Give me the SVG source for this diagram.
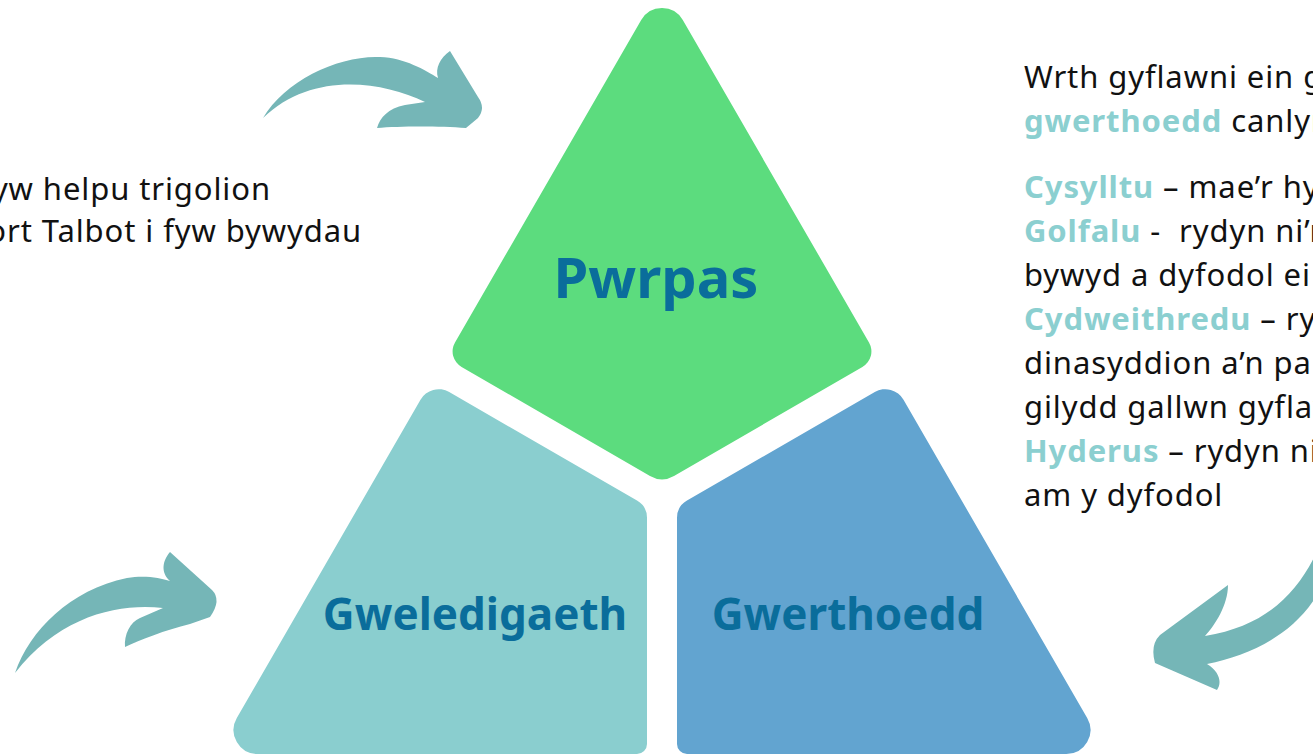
<svg xmlns="http://www.w3.org/2000/svg" width="1313" height="755" viewBox="0 0 1313 755">
<style>
.lbl{font-family:"Noto Sans","Open Sans",sans-serif;font-weight:700;fill:#0a6d9b;text-anchor:middle}
.body{font-family:"Noto Sans","Open Sans",sans-serif;font-size:31px;letter-spacing:0.9px;fill:#111;white-space:pre}
.hl{fill:#8bcfd0;font-weight:700}
.arrow{fill:#75b6b7}
</style>
<rect width="1313" height="755" fill="#fff"/>
<g id="connectors">
<path class="arrow" d="M 263 118 C 285 80, 340 55, 380 57 C 405 58, 425 70, 438 78 C 435 68, 440 58, 450 51 L 478 97 Q 486 108, 478 118 L 466 128 C 440 126, 400 126, 377 128 C 380 118, 388 108, 405 105 L 425 102 C 380 80, 310 72, 263 118 Z"/>
<path class="arrow" d="M 15 673 C 30 630, 70 590, 127 578 C 145 575, 160 578, 170 581 C 160 572, 163 560, 170 552 L 212 590 Q 222 600, 210 617 L 190 624 C 165 630, 140 640, 125 647 C 124 635, 130 622, 140 618 L 163 608 C 120 603, 60 615, 15 673 Z"/>
<path class="arrow" d="M 1320 545 C 1300 590, 1270 625, 1205 636 C 1215 625, 1228 605, 1228 585 L 1160 635 Q 1150 645, 1155 663 L 1217 690 C 1222 683, 1220 672, 1207 664 C 1250 655, 1295 635, 1320 590 Z"/>
</g>
<g id="pwrpas">
<path fill="#5cdc7e" d="M 641.2 20 A 24 24 0 0 1 682.8 20 L 869 342.4 A 18 18 0 0 1 862.4 367 L 674 476 A 24 24 0 0 1 650 476 L 461.6 367 A 18 18 0 0 1 455 342.4 Z"/>
<text class="lbl" x="656" y="298" font-size="56">Pwrpas</text>
</g>
<g id="gweledigaeth">
<path fill="#8acecf" d="M 449.2 392 L 637 500.5 A 20 20 0 0 1 647 517.8 L 647 744 A 10 10 0 0 1 637 754 L 257.6 754 A 24 24 0 0 1 236.8 718 L 420.5 399.7 A 21 21 0 0 1 449.2 392 Z"/>
<text class="lbl" x="475" y="630" font-size="44">Gweledigaeth</text>
</g>
<g id="gwerthoedd">
<path fill="#62a4d0" d="M 874.8 392 L 687 500.5 A 20 20 0 0 0 677 517.8 L 677 744 A 10 10 0 0 0 687 754 L 1066.4 754 A 24 24 0 0 0 1087.2 718 L 903.5 399.7 A 21 21 0 0 0 874.8 392 Z"/>
<text class="lbl" x="848" y="630" font-size="44">Gwerthoedd</text>
</g>
<g id="left-text">
<text class="body" x="271" y="200" text-anchor="end">yw helpu trigolion</text>
<text class="body" x="362" y="242" text-anchor="end">ort Talbot i fyw bywydau</text>
</g>
<g id="right-text">
<text class="body" x="1024" y="88">Wrth gyflawni ein g</text>
<text class="body" x="1024" y="132"><tspan class="hl">gwerthoedd</tspan> canlyn</text>
<text class="body" x="1024" y="198"><tspan class="hl">Cysylltu</tspan> – mae’r hy</text>
<text class="body" x="1024" y="242"><tspan class="hl">Golfalu</tspan> -  rydyn ni’n</text>
<text class="body" x="1024" y="286">bywyd a dyfodol ei</text>
<text class="body" x="1024" y="330"><tspan class="hl">Cydweithredu</tspan> – ryd</text>
<text class="body" x="1024" y="374">dinasyddion a’n pa</text>
<text class="body" x="1024" y="418">gilydd gallwn gyflaw</text>
<text class="body" x="1024" y="462"><tspan class="hl">Hyderus</tspan> – rydyn ni</text>
<text class="body" x="1024" y="506">am y dyfodol</text>
</g>
</svg>
